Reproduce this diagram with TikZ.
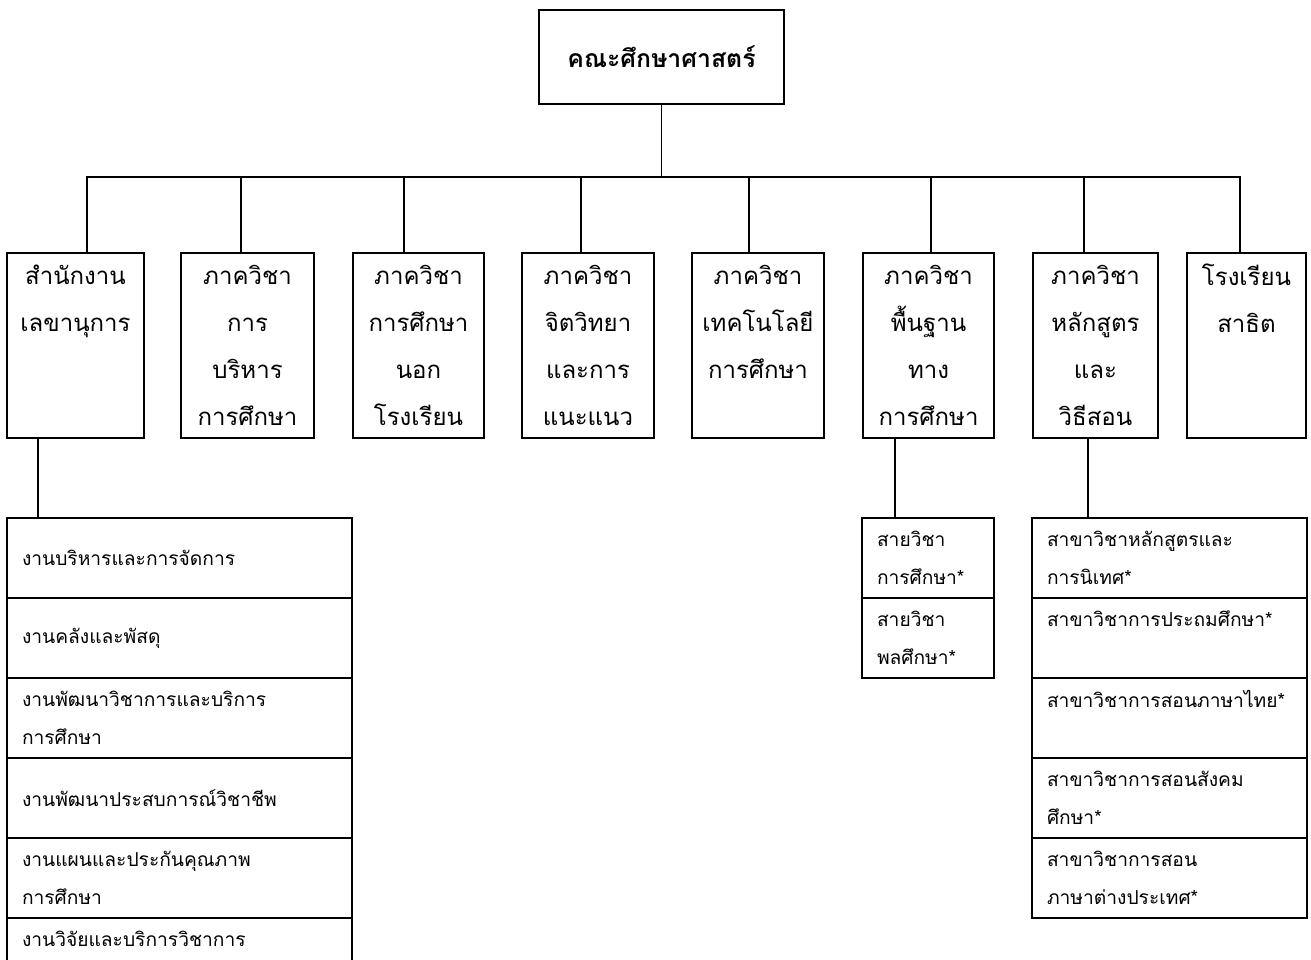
\documentclass[tikz,border=0pt]{standalone}
\usepackage{fontspec}
\setmainfont{Loma}[Script=Thai]
\usetikzlibrary{calc}

\begin{document}
\begin{tikzpicture}[x=0.75pt,y=-0.75pt,line width=1.4pt]
\useasboundingbox (0,0) rectangle (1311,960);
\tikzstyle{head}=[draw,outer sep=0pt,inner sep=0pt,font=\bfseries\fontsize{18.6}{23}\selectfont,minimum width=183.75pt,minimum height=70.5pt,anchor=north west]
\tikzstyle{dept}=[draw,outer sep=0pt,inner sep=0pt,align=center,font=\fontsize{18}{35.25}\selectfont,minimum height=138.75pt,anchor=north west]
\tikzstyle{cell}=[draw,outer sep=0pt,inner xsep=11.25pt,inner ysep=0pt,align=left,font=\fontsize{14.4}{28.5}\selectfont,minimum height=60pt,anchor=north west]

% top
\node[head] (fac) at (539,10) {คณะศึกษาศาสตร์};
\coordinate (bus) at ($(fac.south)+(0,73)$);

% departments
\node[dept,minimum width=102.75pt] (off) at (7,253) {สำนักงาน\\เลขานุการ\\\mbox{}\\\mbox{}};
\node[dept,minimum width=99.75pt] (adm) at (181,253) {ภาควิชา\\การ\\บริหาร\\การศึกษา};
\node[dept,minimum width=98.25pt] (nfe) at (353,253) {ภาควิชา\\การศึกษา\\นอก\\โรงเรียน};
\node[dept,minimum width=99pt] (psy) at (522,253) {ภาควิชา\\จิตวิทยา\\และการ\\แนะแนว};
\node[dept,minimum width=99pt] (tec) at (692,253) {ภาควิชา\\เทคโนโลยี\\การศึกษา\\\mbox{}};
\node[dept,minimum width=98.25pt] (fnd) at (863,253) {ภาควิชา\\พื้นฐาน\\ทาง\\การศึกษา};
\node[dept,minimum width=93.75pt] (cur) at (1033,253) {ภาควิชา\\หลักสูตร\\และ\\วิธีสอน};
\node[dept,minimum width=89.25pt] (sch) at (1187,253) {โรงเรียน\\สาธิต\\\mbox{}\\\mbox{}};

\draw (fac.south) -- (bus);
\draw (bus) -| ($(off.north)+(11.5,0)$);
\draw (bus) -| ($(adm.north)+(-6.5,0)$);
\draw (bus) -| ($(nfe.north)+(-14.5,0)$);
\draw (bus) -| ($(psy.north)+(-7,0)$);
\draw (bus) -| ($(tec.north)+(-9,0)$);
\draw (bus) -| ($(fnd.north)+(2.5,0)$);
\draw (bus) -| ($(cur.north)+(-11.5,0)$);
\draw (bus) -| ($(sch.north)+(-6.5,0)$);

% office units
\node[cell,text width=236.25pt] (u1) at (7,518) {งานบริหารและการจัดการ};
\node[cell,text width=236.25pt] (u2) at (u1.south west) {งานคลังและพัสดุ};
\node[cell,text width=236.25pt] (u3) at (u2.south west) {งานพัฒนาวิชาการและบริการ\\การศึกษา};
\node[cell,text width=236.25pt] (u4) at (u3.south west) {งานพัฒนาประสบการณ์วิชาชีพ};
\node[cell,text width=236.25pt] (u5) at (u4.south west) {งานแผนและประกันคุณภาพ\\การศึกษา};
\node[cell,text width=236.25pt] (u6) at (u5.south west) {งานวิจัยและบริการวิชาการ\\\mbox{}};

% foundations
\node[cell,text width=76.5pt] (f1) at (862,518) {สายวิชา\\การศึกษา*};
\node[cell,text width=76.5pt] (f2) at (f1.south west) {สายวิชา\\พลศึกษา*};

% curriculum
\node[cell,text width=183.75pt] (c1) at (1032,518) {สาขาวิชาหลักสูตรและ\\การนิเทศ*};
\node[cell,text width=183.75pt] (c2) at (c1.south west) {สาขาวิชาการประถมศึกษา*\\\mbox{}};
\node[cell,text width=183.75pt] (c3) at (c2.south west) {สาขาวิชาการสอนภาษาไทย*\\\mbox{}};
\node[cell,text width=183.75pt] (c4) at (c3.south west) {สาขาวิชาการสอนสังคม\\ศึกษา*};
\node[cell,text width=183.75pt] (c5) at (c4.south west) {สาขาวิชาการสอน\\ภาษาต่างประเทศ*};

\coordinate (j1) at ($(off.south)+(-37.5,0)$);
\coordinate (j2) at ($(fnd.south)+(-33.5,0)$);
\coordinate (j3) at ($(cur.south)+(-7.5,0)$);
\draw (j1) -- (j1 |- u1.north);
\draw (j2) -- (j2 |- f1.north);
\draw (j3) -- (j3 |- c1.north);
\end{tikzpicture}
\end{document}
